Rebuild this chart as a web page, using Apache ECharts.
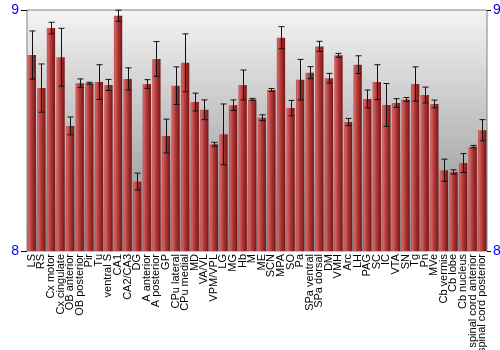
<!DOCTYPE html>
<html><head><meta charset="utf-8">
<script src="https://cdn.jsdelivr.net/npm/echarts@6/dist/echarts.min.js"></script>
<style>html,body{margin:0;padding:0;background:#fff}#c{width:500px;height:350px}</style>
</head><body><div id="c"></div>
<script>
const categories = ["LS","RS","Cx motor","Cx cingulate","OB anterior","OB posterior","Pir","Tu","ventral S","CA1","CA2/CA3","DG","A anterior","A posterior","GP","CPu lateral","CPu medial","MD","VA/VL","VPM/VPL","LG","MG","Hb","M","ME","SCN","MPA","SO","Pa","SPa ventral","SPa dorsal","DM","VMH","Arc","LH","PAG","SC","IC","VTA","SN","Tg","Pn","MVe","Cb vermis","Cb lobe","Cb nucleus","spinal cord anterior","spinal cord posterior"];
const values = [8.813,8.676,8.925,8.804,8.519,8.696,8.696,8.701,8.689,8.976,8.714,8.288,8.693,8.797,8.477,8.686,8.781,8.618,8.586,8.443,8.484,8.605,8.689,8.629,8.553,8.668,8.885,8.593,8.711,8.740,8.849,8.717,8.812,8.535,8.773,8.631,8.701,8.606,8.614,8.629,8.693,8.647,8.610,8.335,8.328,8.365,8.433,8.501];
const errors = [0.10,0.10,0.024,0.12,0.037,0.018,0.004,0.072,0.023,0.023,0.046,0.035,0.018,0.072,0.07,0.078,0.12,0.037,0.041,0.008,0.126,0.022,0.062,0.004,0.012,0.006,0.046,0.032,0.084,0.025,0.021,0.02,0.008,0.015,0.037,0.037,0.072,0.089,0.018,0.008,0.071,0.033,0.016,0.046,0.009,0.039,0.005,0.044];
const yTicks = [8, 9];

const blue = '#0000ff';
const chart = echarts.init(document.getElementById('c'), null, {renderer:'canvas'});
const errData = values.map((v,i)=>[i, v-errors[i], v+errors[i]]);
chart.setOption({
  animation:false,
  grid:{left:27,right:13,top:10,bottom:99,show:true,borderColor:'#808080',borderWidth:1,
    containLabel:false,outerBoundsMode:'none',
    backgroundColor:new echarts.graphic.LinearGradient(0,0,0,1,[{offset:0,color:'#f4f4f4'},{offset:1,color:'#888888'}])},
  xAxis:{type:'category',data:categories,
    axisLine:{show:false},axisTick:{show:false},
    axisLabel:{rotate:90,interval:0,fontSize:11,color:'#000',fontFamily:'Liberation Sans, Arial',margin:3}},
  yAxis:[
    {type:'value',min:yTicks[0],max:yTicks[1],interval:1,position:'left',
     name:'Log2 (expression)',nameLocation:'middle',nameGap:13,nameRotate:90,
     nameTextStyle:{color:blue,fontSize:14,fontFamily:'Liberation Sans, Arial'},
     axisLine:{show:false},axisTick:{show:true,length:6,lineStyle:{color:'#000'}},splitLine:{show:false},
     axisLabel:{color:blue,fontSize:14,margin:8,fontFamily:'Liberation Sans, Arial'}},
    {type:'value',min:yTicks[0],max:yTicks[1],interval:1,position:'right',
     axisLine:{show:false},axisTick:{show:true,length:4,lineStyle:{color:'#000'}},splitLine:{show:false},
     axisLabel:{color:blue,fontSize:14,margin:6,fontFamily:'Liberation Sans, Arial'}}
  ],
  series:[
    {type:'bar',data:values,barCategoryGap:'13%',
     itemStyle:{color:new echarts.graphic.LinearGradient(0,0,1,0,[
       {offset:0,color:'#c45050'},{offset:0.15,color:'#d06262'},{offset:0.45,color:'#b53a3a'},{offset:1,color:'#741616'}])}},
    {type:'custom',data:errData,z:10,
     renderItem:function(params,api){
       const x = api.value(0);
       const lo = api.coord([x, api.value(1)]);
       const hi = api.coord([x, api.value(2)]);
       const cx = Math.round(lo[0]) + 0.5;
       const w = 3;
       const st = {stroke:'#111',lineWidth:1};
       return {type:'group',children:[
         {type:'line',shape:{x1:cx,y1:hi[1],x2:cx,y2:lo[1]},style:st},
         {type:'line',shape:{x1:cx-w,y1:hi[1],x2:cx+w,y2:hi[1]},style:st},
         {type:'line',shape:{x1:cx-w,y1:lo[1],x2:cx+w,y2:lo[1]},style:st}
       ]};
     }}
  ]
});
</script></body></html>
